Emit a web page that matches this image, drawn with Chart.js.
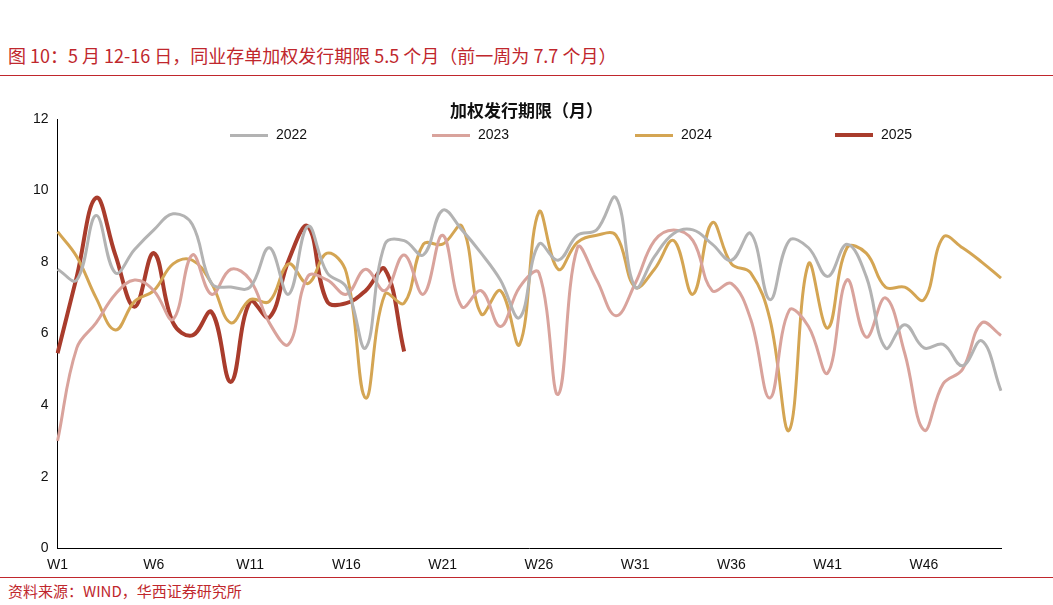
<!DOCTYPE html>
<html><head><meta charset="utf-8">
<script src="https://cdn.jsdelivr.net/npm/chart.js@4"></script>
<style>
body{margin:0;width:1053px;height:605px;position:relative;background:#fff;font-family:"Noto Sans CJK SC","Liberation Sans",sans-serif;}
#t{position:absolute;left:8px;top:42px;font-size:18px;color:#c0272d;}
#l1{position:absolute;left:0;top:75px;width:1053px;height:1px;background:#c0272d;}
#l2{position:absolute;left:0;top:577px;width:1053px;height:1px;background:#c0272d;}
#s{position:absolute;left:8px;top:580px;font-size:15px;color:#c0272d;}
#c{position:absolute;left:0;top:105px;width:1053px;height:472px;}
#ct{position:absolute;left:0;width:1053px;text-align:center;top:97px;font-size:17px;font-weight:bold;color:#111;z-index:2;}
.lg{position:absolute;top:126px;font:14px "Liberation Sans",sans-serif;color:#111;z-index:2;}
.lg i{display:inline-block;width:38px;height:3px;vertical-align:middle;margin-right:8px;}
</style></head><body>
<div id="t">图 10：5 月 12-16 日，同业存单加权发行期限 5.5 个月（前一周为 7.7 个月）</div>
<div id="l1"></div>
<div id="c"><canvas id="cv"></canvas></div>
<div id="ct">加权发行期限（月）</div>
<div class="lg" style="left:230px"><i style="background:#b3b3b3"></i>2022</div>
<div class="lg" style="left:432px"><i style="background:#d9a39c"></i>2023</div>
<div class="lg" style="left:635px"><i style="background:#d4a553"></i>2024</div>
<div class="lg" style="left:835px"><i style="background:#a93c2c;height:4px"></i>2025</div>
<div id="l2"></div>
<div id="s">资料来源：WIND，华西证券研究所</div>
<script>
const weeks = Array.from({length:50},(_,i)=>'W'+(i+1));
const s2022 = [7.8,7.5,9.3,7.7,8.35,8.9,9.35,9.05,7.4,7.3,7.3,8.4,7.1,9.0,7.7,7.3,5.6,8.5,8.6,8.2,9.45,8.9,8.25,7.5,6.45,8.5,8.05,8.75,8.9,9.8,7.3,8.15,8.8,8.9,8.5,8.05,8.8,6.95,8.6,8.4,7.6,8.5,7.6,5.6,6.25,5.6,5.7,5.1,5.8,4.4];
const s2023 = [3.0,5.6,6.3,7.1,7.5,7.2,6.4,8.2,7.1,7.8,7.5,6.3,5.7,7.6,7.5,7.1,7.8,7.2,8.2,7.1,8.75,6.75,7.2,6.2,7.3,7.7,4.3,8.4,7.5,6.5,7.4,8.6,8.9,8.6,7.2,7.4,6.4,4.2,6.65,6.2,4.9,7.5,5.9,7.0,5.45,3.3,4.6,5.0,6.3,5.95];
const s2024 = [8.85,8.15,7.0,6.1,6.9,7.2,7.95,8.05,7.4,6.3,6.95,6.9,7.95,7.4,8.25,7.7,4.2,7.1,6.85,8.5,8.5,9.0,6.55,7.2,5.7,9.4,7.8,8.55,8.75,8.75,7.3,7.8,8.6,7.1,9.1,7.95,7.7,6.4,3.3,7.95,6.15,8.4,8.25,7.3,7.3,6.95,8.7,8.4,8.0,7.55];
const s2025 = [5.45,7.6,9.8,8.2,6.75,8.25,6.3,5.95,6.6,4.65,6.9,6.45,8.05,9.0,6.9,6.85,7.2,7.8,5.5];
const mk=(label,data,color,w)=>({label,data,borderColor:color,backgroundColor:color,borderWidth:w,pointRadius:0,tension:0.4});
new Chart(document.getElementById('cv'),{type:'line',
data:{labels:weeks,datasets:[mk('2022',s2022,'#b3b3b3',3),mk('2023',s2023,'#d9a39c',3),mk('2024',s2024,'#d4a553',3),mk('2025',s2025,'#a93c2c',4)]},
options:{responsive:true,maintainAspectRatio:false,animation:false,
layout:{padding:{left:30,right:52,top:14,bottom:0}},
plugins:{legend:{display:false},tooltip:{enabled:false}},
scales:{x:{offset:false,grid:{display:false,drawTicks:true,tickLength:6},border:{color:'#000',width:1},
ticks:{autoSkip:false,maxRotation:0,color:'#111',font:{size:14,family:'Liberation Sans'},callback:function(v,i){return i%5===0?weeks[i]:'';}}},
y:{min:0,max:12,grid:{display:false,drawTicks:true,tickLength:6},border:{color:'#000',width:1},ticks:{stepSize:2,color:'#111',font:{size:14,family:'Liberation Sans'}}}}}});
</script></body></html>
